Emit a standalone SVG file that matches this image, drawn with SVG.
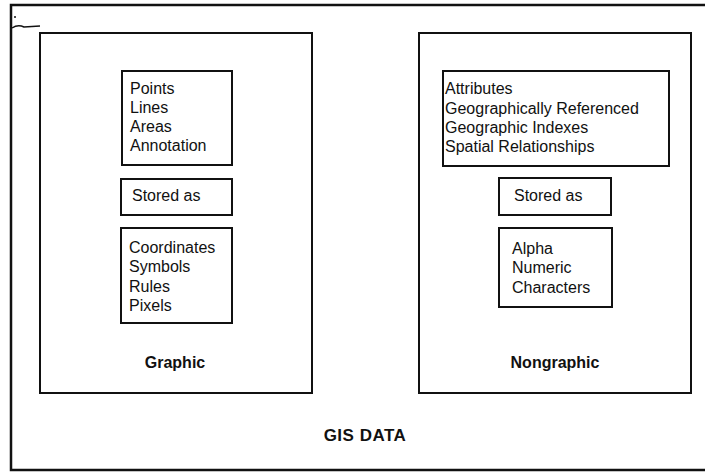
<svg xmlns="http://www.w3.org/2000/svg" width="705" height="472" viewBox="0 0 705 472">
  <style>
    .frame { fill: none; stroke: #111; stroke-width: 2; }
    .outer { fill: none; stroke: #111; stroke-width: 2.5; }
    .txt { font-family: "Liberation Sans", Arial, sans-serif; font-size: 16px; fill: #111; }
    .title { font-family: "Liberation Sans", Arial, sans-serif; font-size: 16px; font-weight: bold; fill: #111; text-anchor: middle; }
    .big { font-family: "Liberation Sans", Arial, sans-serif; font-size: 17px; font-weight: bold; fill: #111; text-anchor: middle; letter-spacing: 0.5px; }
  </style>
  <rect width="705" height="472" fill="#fff"/>

  <!-- GIS DATA container (right edge runs off the sheet) -->
  <g id="gis-data">
    <path class="outer" d="M708 5 H11 V470 H708"/>
    <path d="M12 28 Q18 24 24 27 L40 26" fill="none" stroke="#111" stroke-width="1.5"/>
    <circle cx="15" cy="17" r="1" fill="#111"/>
    <text class="big" x="365" y="441">GIS DATA</text>
  </g>

  <!-- Graphic data -->
  <g id="graphic">
    <rect class="frame" x="40" y="33" width="272" height="360"/>
    <text class="title" x="175" y="368">Graphic</text>
  </g>
  <g id="graphic-types">
    <rect class="frame" x="122" y="71" width="110" height="94"/>
    <text class="txt" x="130" y="94">Points</text>
    <text class="txt" x="130" y="113">Lines</text>
    <text class="txt" x="130" y="132">Areas</text>
    <text class="txt" x="130" y="151">Annotation</text>
  </g>
  <g id="graphic-stored">
    <rect class="frame" x="121" y="179" width="111" height="36"/>
    <text class="txt" x="132" y="201">Stored as</text>
  </g>
  <g id="graphic-forms">
    <rect class="frame" x="121" y="228" width="111" height="95"/>
    <text class="txt" x="129" y="253">Coordinates</text>
    <text class="txt" x="129" y="272">Symbols</text>
    <text class="txt" x="129" y="292">Rules</text>
    <text class="txt" x="129" y="311">Pixels</text>
  </g>

  <!-- Nongraphic data -->
  <g id="nongraphic">
    <rect class="frame" x="419" y="33" width="272" height="360"/>
    <text class="title" x="555" y="368">Nongraphic</text>
  </g>
  <g id="nongraphic-types">
    <rect class="frame" x="443" y="71" width="226" height="95"/>
    <text class="txt" x="445" y="94">Attributes</text>
    <text class="txt" x="445" y="114">Geographically Referenced</text>
    <text class="txt" x="445" y="133">Geographic Indexes</text>
    <text class="txt" x="445" y="152">Spatial Relationships</text>
  </g>
  <g id="nongraphic-stored">
    <rect class="frame" x="499" y="178" width="112" height="37"/>
    <text class="txt" x="514" y="201">Stored as</text>
  </g>
  <g id="nongraphic-forms">
    <rect class="frame" x="499" y="228" width="113" height="79"/>
    <text class="txt" x="512" y="254">Alpha</text>
    <text class="txt" x="512" y="273">Numeric</text>
    <text class="txt" x="512" y="293">Characters</text>
  </g>

  <!-- no connectors in this diagram -->
  <g id="connectors"/>
</svg>
